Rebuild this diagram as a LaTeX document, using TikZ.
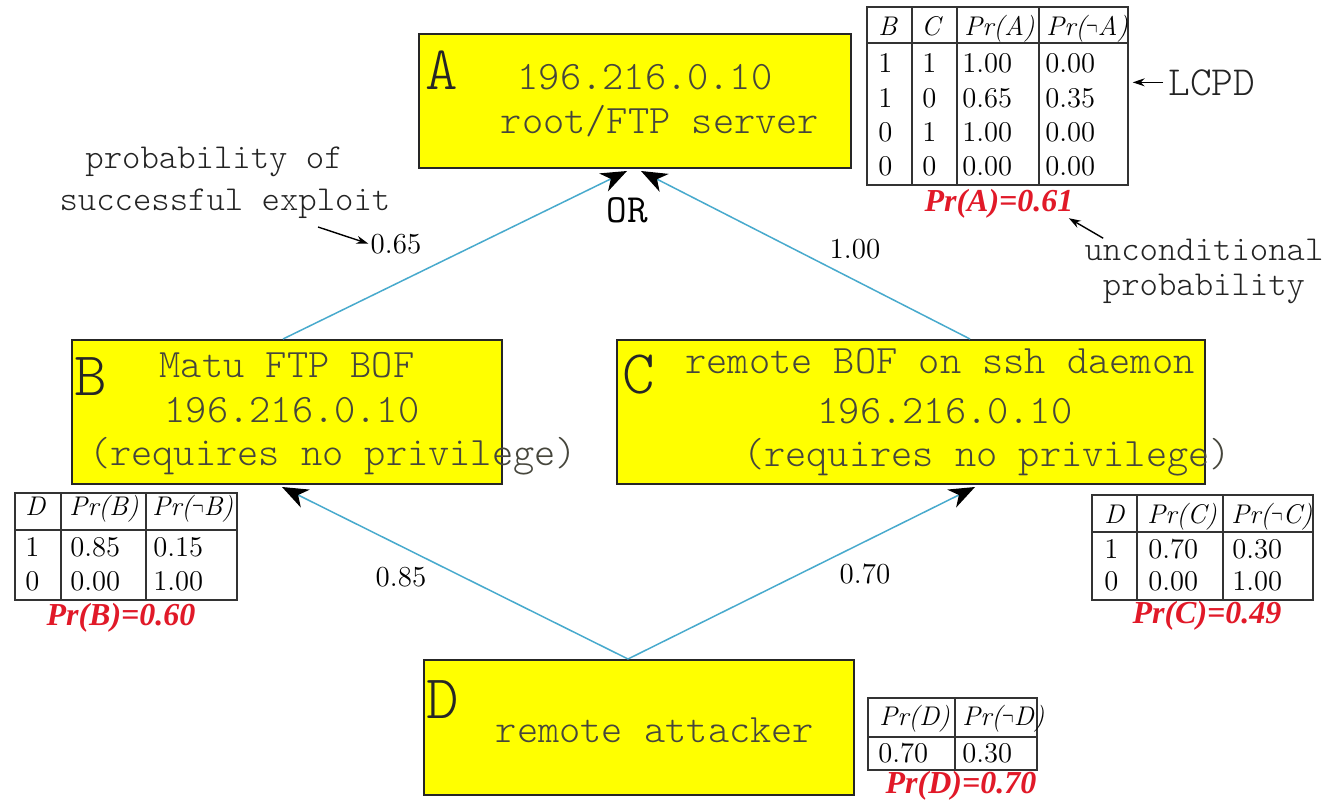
\documentclass[tikz,border=0pt]{standalone}
\usepackage{fontspec}
\usepackage{graphicx}
\newfontfamily\redserif{Liberation Serif}
\newfontfamily\lmlight{Latin Modern Mono Light}
\usetikzlibrary{arrows.meta,calc}
\definecolor{boxyellow}{RGB}{255,255,0}
\definecolor{edgeblue}{RGB}{72,170,205}
\definecolor{txtgray}{RGB}{70,70,60}
\definecolor{annot}{RGB}{35,35,35}
\definecolor{probred}{RGB}{225,25,40}
\newcommand{\fsz}[1]{\fontsize{#1}{#1}\selectfont}
\newcommand{\ngt}{\scalebox{0.6}[1]{$\neg$}}
\begin{document}
\begin{tikzpicture}[x=0.5pt,y=-0.5pt,
  nodebox/.style={draw=black!85,line width=1pt,fill=boxyellow,inner sep=0pt},
  boxletter/.style={font=\lmlight\fsz{31},text=black!85,anchor=base west,inner sep=0pt},
  boxtext/.style={font=\lmlight\fsz{20.2},text=txtgray,anchor=base,inner sep=0pt,text height=12pt,text depth=3pt},
  bluelink/.style={draw=edgeblue,line width=0.75pt,-{Stealth[length=13pt,width=10pt,inset=4pt,color=black]}},
  elabel/.style={font=\fsz{14.5},anchor=base,inner sep=0pt},
  annottext/.style={font=\lmlight\fsz{17.5},text=annot,anchor=base,inner sep=0pt},
  smallarrow/.style={draw=black,line width=0.7pt,-{Stealth[length=6pt,width=4pt]}},
  tblframe/.style={draw=black!80,line width=0.7pt,inner sep=0pt},
  tblline/.style={draw=black!80,line width=0.7pt},
  cell/.style={font=\fsz{14.3},anchor=base west,inner sep=0pt},
  hcell/.style={font=\fsz{13.5}\itshape,anchor=base west,inner sep=0pt},
  redlbl/.style={font=\redserif\fsz{16}\bfseries\itshape,text=probred,anchor=base,inner sep=0pt}
]
\fill[white] (0,0) rectangle (1329,803);
\useasboundingbox (0,0) rectangle (1329,803);

% boxes
\node[nodebox,minimum width=216pt,minimum height=67pt] (A) at (635,101) {};
\node[nodebox,minimum width=215pt,minimum height=72pt] (B) at (287,412) {};
\node[nodebox,minimum width=294pt,minimum height=72pt] (C) at (911,412) {};
\node[nodebox,minimum width=215pt,minimum height=67.5pt] (D) at (639,727.5) {};

% connectors
\draw[bluelink] ([xshift=-2pt]B.north) -- ([xshift=-4pt,yshift=-1pt]A.south);
\draw[bluelink] ([xshift=29.5pt]C.north) -- ([xshift=3pt,yshift=-1pt]A.south);
\draw[bluelink] ([xshift=-5.5pt]D.north) -- ([xshift=-2.5pt,yshift=-1pt]B.south);
\draw[bluelink] ([xshift=-5.5pt]D.north) -- ([xshift=32pt,yshift=-1pt]C.south);

% box texts
\node[boxletter] (Alet) at (425,90) {A};
\node[boxtext] (A1) at (645,89) {196.216.0.10};
\node[boxtext] (A2) at (660,133) {root/FTP server};
\node[boxletter] (Blet) at (74,395) {B};
\node[boxtext] (B1) at (287,377) {Matu FTP BOF};
\node[boxtext] (B2) at (292,422) {196.216.0.10};
\node[boxtext] (B3) at (333,465) {(requires no privilege)};
\node[boxletter] (Clet) at (622,393) {C};
\node[boxtext] (C1) at (940,373) {remote BOF on ssh daemon};
\node[boxtext] (C2) at (945,423) {196.216.0.10};
\node[boxtext] (C3) at (987,466) {(requires no privilege)};
\node[boxletter] (Dlet) at (426,718) {D};
\node[boxtext] (D1) at (655,742) {remote attacker};

\node[font=\ttfamily\fsz{20},anchor=base,inner sep=0pt] (or) at (627,222) {OR};

% edge labels
\node[elabel] (l065) at (396,253) {0.65};
\node[elabel] (l100) at (855,258) {1.00};
\node[elabel] (l085) at (401,586) {0.85};
\node[elabel] (l070) at (865,583) {0.70};

% annotations
\node[annottext] (prob1) at (214,168) {probability of};
\node[annottext] (prob2) at (225,210) {successful exploit};
\node[annottext] (unc1) at (1204,260) {unconditional};
\node[annottext] (unc2) at (1204,295) {probability};
\node[annottext,font=\lmlight\fsz{20.7},anchor=base west] (lcpd) at (1168,95) {LCPD};

% Table A
\node[tblframe,minimum width=130.5pt,minimum height=89pt] (tA) at (997.5,96) {};
\draw[tblline] (867,43) -- (1128,43) (912,7) -- (912,185) (957,7) -- (957,185) (1039,7) -- (1039,185);
\foreach \cx/\cy/\ct [count=\i] in {
  878/35/B, 921/35/C, 964/35/Pr(A), 1046/35/{Pr(\ngt A)}}
  \node[hcell] (tAh\i) at (\cx,\cy) {\ct};
\foreach \cx/\cy/\ct [count=\i] in {
  878/72/1, 922/72/1, 962/72/1.00, 1045/72/0.00,
  878/107/1, 922/107/0, 962/107/0.65, 1045/107/0.35,
  878/141/0, 922/141/1, 962/141/1.00, 1045/141/0.00,
  878/175/0, 922/175/0, 962/175/0.00, 1045/175/0.00}
  \node[cell] (tAc\i) at (\cx,\cy) {\ct};
\node[redlbl] (pA) at (999,211) {Pr(A)=0.61};

% Table B
\node[tblframe,minimum width=111pt,minimum height=53.5pt] (tB) at (126,546.5) {};
\draw[tblline] (15,530) -- (237,530) (61,493) -- (61,600) (146,493) -- (146,600);
\foreach \cx/\cy/\ct [count=\i] in {
  25/515/D, 69/515/Pr(B), 152/515/{Pr(\ngt B)}}
  \node[hcell] (tBh\i) at (\cx,\cy) {\ct};
\foreach \cx/\cy/\ct [count=\i] in {
  25/556/1, 70/556/0.85, 153/556/0.15,
  25/590/0, 70/590/0.00, 153/590/1.00}
  \node[cell] (tBc\i) at (\cx,\cy) {\ct};
\node[redlbl] (pB) at (121,625) {Pr(B)=0.60};

% Table C
\node[tblframe,minimum width=110.5pt,minimum height=52.5pt] (tC) at (1202.5,547.5) {};
\draw[tblline] (1092,532) -- (1313,532) (1137,495) -- (1137,600) (1223,495) -- (1223,600);
\foreach \cx/\cy/\ct [count=\i] in {
  1104/523/D, 1147/523/Pr(C), 1231/523/{Pr(\ngt C)}}
  \node[hcell] (tCh\i) at (\cx,\cy) {\ct};
\foreach \cx/\cy/\ct [count=\i] in {
  1104/558/1, 1148/558/0.70, 1232/558/0.30,
  1104/590/0, 1148/590/0.00, 1232/590/1.00}
  \node[cell] (tCc\i) at (\cx,\cy) {\ct};
\node[redlbl] (pC) at (1207,623) {Pr(C)=0.49};

% Table D
\node[tblframe,minimum width=84.5pt,minimum height=36pt] (tD) at (952.5,734) {};
\draw[tblline] (868,737) -- (1037,737) (955,698) -- (955,770);
\foreach \cx/\cy/\ct [count=\i] in {
  879/725/Pr(D), 962/725/{Pr(\ngt D)}}
  \node[hcell] (tDh\i) at (\cx,\cy) {\ct};
\foreach \cx/\cy/\ct [count=\i] in {
  878/762/0.70, 962/762/0.30}
  \node[cell] (tDc\i) at (\cx,\cy) {\ct};
\node[redlbl] (pD) at (961,793) {Pr(D)=0.70};

% annotation arrows
\coordinate (c065) at (318,227);
\draw[smallarrow] (c065) -- ([xshift=-1pt]l065.west);
\draw[smallarrow] ($(lcpd.west)+(-5,0)$) -- ($(tA.east|-lcpd.west)+(4,0)$);
\draw[smallarrow] ([xshift=9.5pt]unc1.north west) -- ([xshift=-2.5pt]pA.south east);
\end{tikzpicture}
\end{document}
